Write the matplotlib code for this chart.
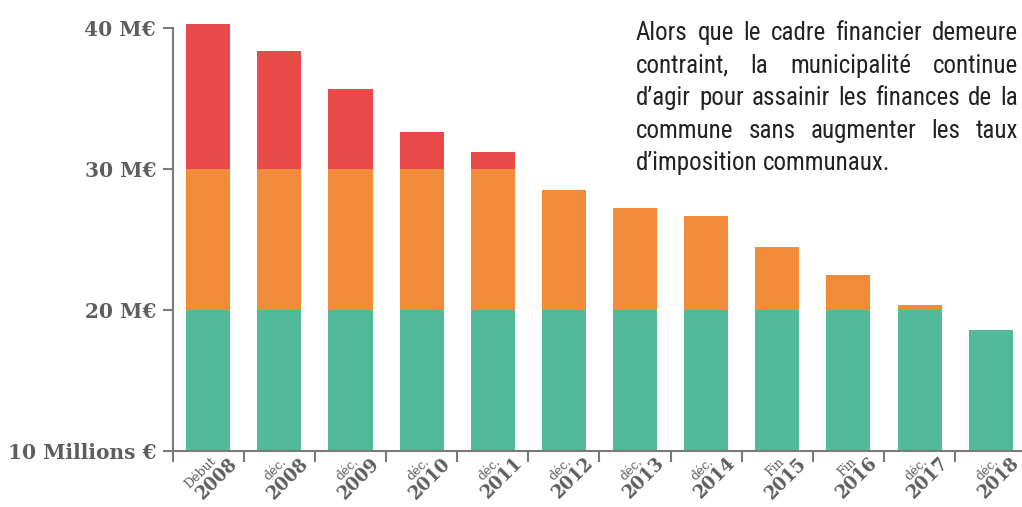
import matplotlib
matplotlib.use("Agg")
import matplotlib.pyplot as plt
from matplotlib import font_manager
from matplotlib.transforms import IdentityTransform

# data (millions of euros, axis starts at 10)
prefixes = ["Début", "déc.", "déc.", "déc.", "déc.", "déc.", "déc.", "déc.", "Fin", "Fin", "déc.", "déc."]
years = ["2008", "2008", "2009", "2010", "2011", "2012", "2013", "2014", "2015", "2016", "2017", "2018"]
green = [10, 10, 10, 10, 10, 10, 10, 10, 10, 10, 10, 8.6]
orange = [10, 10, 10, 10, 10, 8.5, 7.2, 6.7, 4.5, 2.5, 0.35, 0]
red = [10.3, 8.4, 5.7, 2.6, 1.2, 0, 0, 0, 0, 0, 0, 0]
ytick_vals = [10, 20, 30, 40]
ytick_labels = ["10 Millions €", "20 M€", "30 M€", "40 M€"]

note_lines = [
    "Alors que le cadre financier demeure",
    "contraint, la municipalité continue",
    "d’agir pour assainir les finances de la",
    "commune sans augmenter les taux",
    "d’imposition communaux.",
]

GREEN = "#52BA9B"
ORANGE = "#F28B3A"
RED = "#E84A49"
GREY = "#5E5E5E"
AXIS = "#7A7A7A"

names = {f.name for f in font_manager.fontManager.ttflist}
note_font = "Roboto"
for cand in ["Liberation Sans Narrow", "Roboto Condensed", "Open Sans Condensed", "DejaVu Sans Condensed"]:
    if cand in names:
        note_font = cand
        break
label_font = "DejaVu Serif"

W, H = 1022, 507
fig = plt.figure(figsize=(W / 100, H / 100), dpi=100)
ax = fig.add_axes([0.169, 0.1105, 0.831, 0.862])

x = list(range(len(years)))
base = [10] * len(x)
ax.bar(x, green, width=0.62, bottom=base, color=GREEN, zorder=2)
b2 = [b + g for b, g in zip(base, green)]
ax.bar(x, orange, width=0.62, bottom=b2, color=ORANGE, zorder=2)
b3 = [b + o for b, o in zip(b2, orange)]
ax.bar(x, red, width=0.62, bottom=b3, color=RED, zorder=2)

ax.set_xlim(-0.5, 11.44)
ax.set_ylim(10, 41)

for s in ["top", "right"]:
    ax.spines[s].set_visible(False)
ax.spines["left"].set_bounds(10, 40)
for s in ["left", "bottom"]:
    ax.spines[s].set_color(AXIS)
    ax.spines[s].set_linewidth(1.5)

ax.set_yticks(ytick_vals)
ax.set_yticklabels(ytick_labels, fontfamily=label_font, fontweight="bold",
                   fontsize=14.5, color=GREY)
ax.tick_params(axis="y", length=7, width=1.5, color=AXIS, pad=5)

ax.set_xticks([i - 0.5 for i in x])
ax.set_xticklabels([])
ax.tick_params(axis="x", length=8, width=1.5, color=AXIS)

renderer = fig.canvas.get_renderer()


def text_width(s, **kw):
    t = fig.text(0, 0, s, **kw)
    w = t.get_window_extent(renderer).width
    t.remove()
    return w


# two-line rotated category labels: small prefix above, bold year below.
# anchored at the start of the baseline so that the text ends near each bar's right edge
c = 0.7071
year_style = dict(fontfamily=label_font, fontweight="bold", fontsize=13, color=GREY)
pre_style = dict(fontfamily=label_font, fontsize=9, color=GREY)
for i in x:
    cx, cy = ax.transData.transform((i, 10))
    ex, ey = cx + 30, cy - 13
    w = text_width(years[i], **year_style)
    fig.text((ex - w * c) / W, (ey - w * c) / H, years[i], rotation=45,
             rotation_mode="anchor", **year_style)
    ex2, ey2 = cx + 8, cy - 11
    w2 = text_width(prefixes[i], **pre_style)
    fig.text((ex2 - w2 * c) / W, (ey2 - w2 * c) / H, prefixes[i], rotation=45,
             rotation_mode="anchor", **pre_style)

# justified note block, top right
x0, x1 = 636, 1018
baselines = [40, 73, 105, 138, 170]
for k, line in enumerate(note_lines):
    words = line.split()
    texts = [fig.text(0, 0, w, transform=IdentityTransform(), fontfamily=note_font,
                      fontsize=18, color="#222222", va="baseline") for w in words]
    widths = [t.get_window_extent(renderer).width for t in texts]
    last = k == len(note_lines) - 1
    if last:
        space = 5
    else:
        space = (x1 - x0 - sum(widths)) / (len(words) - 1)
    pos = x0
    for t, w in zip(texts, widths):
        t.set_position((pos, H - baselines[k]))
        pos += w + space

fig.savefig("out.png", dpi=100)
